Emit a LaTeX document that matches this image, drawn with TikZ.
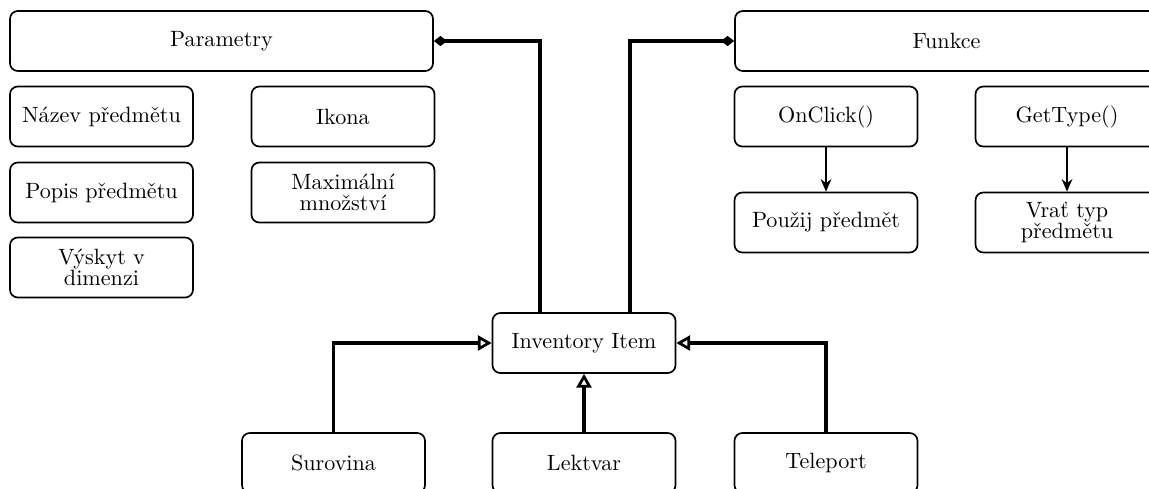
\documentclass[tikz,border=0pt]{standalone}
\usetikzlibrary{arrows.meta}
\begin{document}
\begin{tikzpicture}[
  box/.style={draw, thick, rounded corners=0.13cm, minimum height=1cm,
    minimum width=3.05cm, inner sep=2pt, align=center,
    font=\fontsize{10.5}{9.8}\selectfont},
  widebox/.style={box, minimum width=7.05cm},
  conn/.style={line width=1.6pt},
  inh/.style={conn, -{Triangle[open, length=0.23cm, width=0.25cm, line width=1.3pt]}},
  comp/.style={conn, -{Diamond[length=0.22cm, width=0.17cm]}},
  calls/.style={thick, -{Stealth[length=0.21cm, width=0.18cm]}}]
\useasboundingbox (0,0) rectangle (19.15,-8.1333);
\clip (0,0) rectangle (19.15,-8.1333);

\node[widebox] (par) at (3.6917,-0.6833) {Parametry};
\node[widebox] (fun) at (15.775,-0.6833) {Funkce};

\node[box] (nazev) at (1.6917,-1.9417) {Název předmětu};
\node[box] (popis) at (1.6917,-3.2083) {Popis předmětu};
\node[box] (vyskyt) at (1.6917,-4.4583) {Výskyt v\\dimenzi};
\node[box] (ikona) at (5.7167,-1.9417) {Ikona};
\node[box] (maxim) at (5.7167,-3.2083) {Maximální\\množství};

\node[box] (onclick) at (13.7667,-1.9417) {OnClick()};
\node[box] (gettype) at (17.7833,-1.9417) {GetType()};
\node[box] (pouzij) at (13.7667,-3.7083) {Použij předmět};
\node[box] (vrat) at (17.7833,-3.7083) {Vrať typ\\předmětu};

\node[box] (inv) at (9.7333,-5.7167) {Inventory Item};
\node[box] (sur) at (5.5583,-7.7167) {Surovina};
\node[box] (lek) at (9.7333,-7.7167) {Lektvar};
\node[box] (tel) at (13.7667,-7.7167) {Teleport};

\coordinate (xl) at (9.0,0);
\coordinate (xr) at (10.5,0);
\draw[comp] (inv.north -| xl) |- (par.east);
\draw[comp] (inv.north -| xr) |- (fun.west);

\draw[inh] (sur.north) |- (inv.west);
\draw[inh] (lek.north) -- (inv.south);
\draw[inh] (tel.north) |- (inv.east);

\draw[calls] (onclick.south) -- (pouzij.north);
\draw[calls] (gettype.south) -- (vrat.north);
\end{tikzpicture}
\end{document}
